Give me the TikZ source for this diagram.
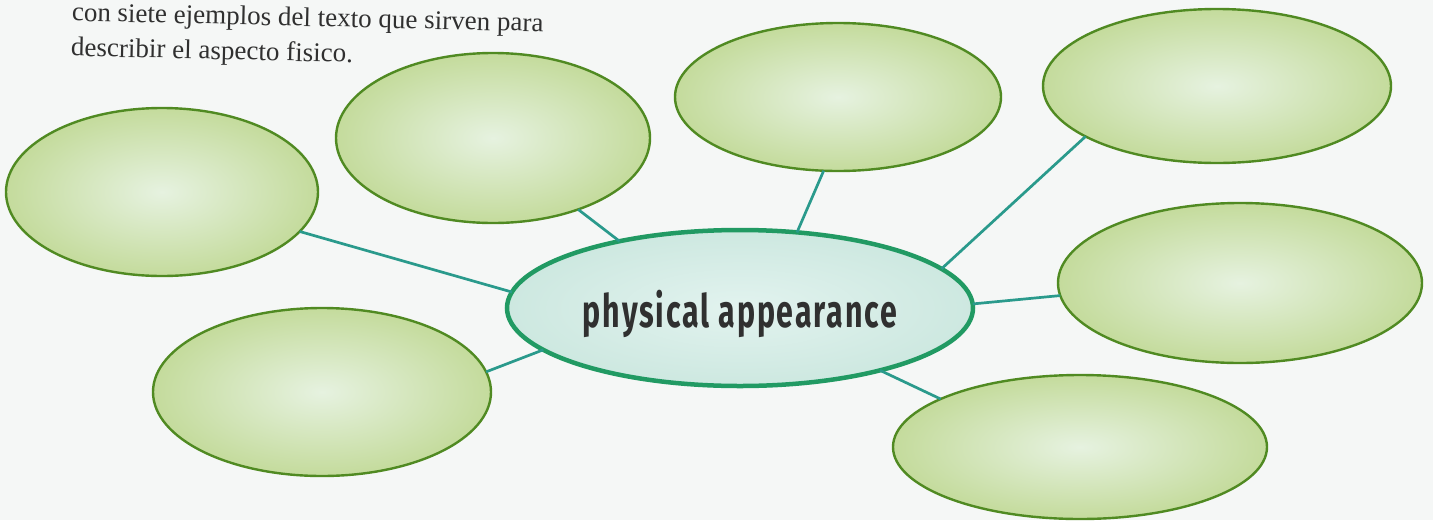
\documentclass[tikz,border=0pt]{standalone}
\usepackage{fontspec}
\setmainfont{Liberation Serif}
\newfontfamily\titlefont[FakeStretch=0.66,LetterSpace=4]{Fira Sans}
\usetikzlibrary{shapes.geometric,shadings}
\definecolor{bgc}{HTML}{F5F7F6}
\definecolor{leafline}{HTML}{508A22}
\definecolor{leafin}{HTML}{E6F2E0}
\definecolor{leafout}{HTML}{C4DB9C}
\definecolor{hubline}{HTML}{219A63}
\definecolor{hubin}{HTML}{E2F3EF}
\definecolor{hubout}{HTML}{CDE8E0}
\definecolor{link}{HTML}{2A9A8C}
\definecolor{ink}{HTML}{303030}
\tikzset{
  leaf/.style={ellipse, draw=leafline, line width=2.4pt, inner sep=0pt, outer sep=0pt,
    shading=radial, inner color=leafin, outer color=leafout},
  hub/.style={ellipse, draw=hubline, line width=4.5pt, inner sep=0pt, outer sep=0pt,
    shading=radial, inner color=hubin, outer color=hubout,
    minimum width=466pt, minimum height=156pt},
  linkline/.style={draw=link, line width=2.7pt},
  hubtext/.style={text=ink, font=\titlefont\bfseries\fontsize{46}{50}\selectfont},
  bodytext/.style={text=ink, font=\fontsize{27}{35}\selectfont, align=left, anchor=north west, inner sep=0pt}
}
\begin{document}
\begin{tikzpicture}[x=1pt,y=-1pt]
\path[use as bounding box, fill=bgc] (0,0) rectangle (1433,520);
\node[bodytext, rotate=-1.3] (intro) at (72,2) {con siete ejemplos del texto que sirven para\\describir el aspecto fisico.};
\node[leaf, minimum width=312pt, minimum height=168pt] (e1) at (162,192) {};
\node[leaf, minimum width=314pt, minimum height=170pt] (e2) at (493,138) {};
\node[leaf, minimum width=326pt, minimum height=148pt] (e3) at (838,97) {};
\node[leaf, minimum width=348pt, minimum height=154pt] (e4) at (1217,86) {};
\node[leaf, minimum width=364pt, minimum height=160pt] (e5) at (1240,283) {};
\node[leaf, minimum width=374pt, minimum height=144pt] (e6) at (1080,447) {};
\node[leaf, minimum width=338pt, minimum height=168pt] (e7) at (322,392) {};
\node[hub] (c) at (740,308) {};
\node[hubtext] (ctext) at (740,314) {physical appearance};
\draw[linkline] (e1.-16.2) -- (c.176.8);
\draw[linkline] (e2.-40.6) -- (c.151.4);
\draw[linkline] (e3.259.4) -- (c.53.1);
\draw[linkline] (e4.201.1) -- (c.11.1);
\draw[linkline] (e5.184.4) -- (c.1);
\draw[linkline] (e6.161.6) -- (c.-24.3);
\draw[linkline] (e7.7) -- (c.192.7);
\end{tikzpicture}
\end{document}
